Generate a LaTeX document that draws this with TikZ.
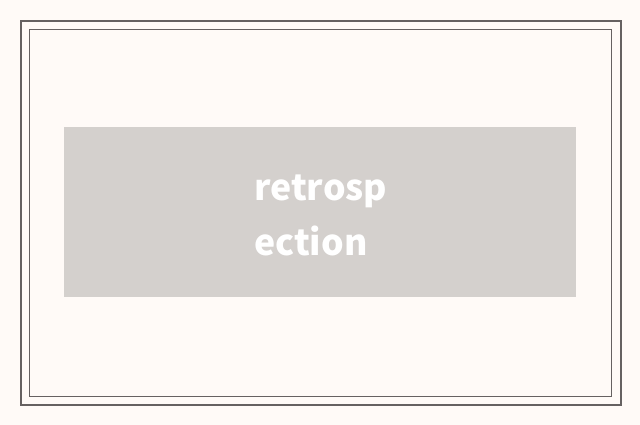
\documentclass[tikz,border=0pt]{standalone}
\usepackage{fontspec}
\newfontfamily\labfont{Noto Sans CJK SC}
\definecolor{bgc}{HTML}{FFFAF7}
\definecolor{framec}{HTML}{666161}
\definecolor{boxc}{HTML}{D4D0CD}
\tikzset{
  frameouter/.style={draw=framec, line width=2pt},
  frameinner/.style={draw=framec, line width=1pt},
  panel/.style={fill=boxc, draw=none},
  lab/.style={text=white, font=\labfont\bfseries\fontsize{35.6}{55}\selectfont, align=left, inner sep=0pt, anchor=base west}
}
\begin{document}
\begin{tikzpicture}[x=1pt,y=-1pt]
\fill[bgc] (0,0) rectangle (640,425);
\useasboundingbox (0,0) rectangle (640,425);
\draw[frameouter] (21,21) rectangle (621,405);
\draw[frameinner] (29.5,29.5) rectangle (611.5,396.5);
\path[panel] (64,127) rectangle (576,296.5);
\node[lab] (t) at (254,255.5) {retrosp\\ection};
\end{tikzpicture}
\end{document}
